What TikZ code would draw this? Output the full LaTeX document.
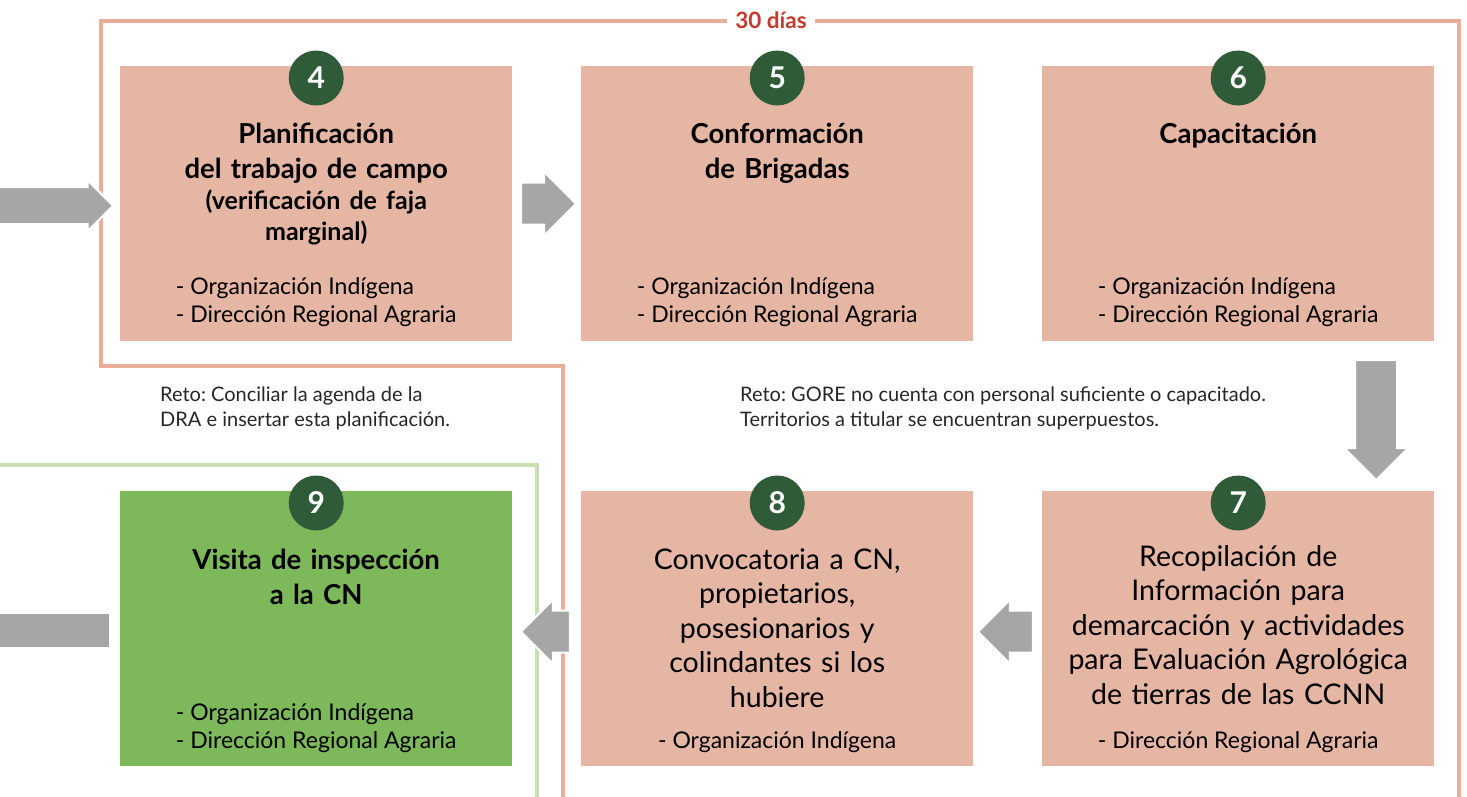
\documentclass[tikz,border=0pt]{standalone}
\usepackage{fontspec}
\setmainfont{Lato}
\usetikzlibrary{shapes.arrows, positioning, calc}

\definecolor{salmon}{HTML}{E6B6A5}
\definecolor{salmonline}{HTML}{E8AE98}
\definecolor{leaf}{HTML}{7DB85A}
\definecolor{leafline}{HTML}{C8DFB4}
\definecolor{pine}{HTML}{2F5B39}
\definecolor{arrowgray}{HTML}{A6A6A6}
\definecolor{dayred}{HTML}{C63A2C}
\frenchspacing

\begin{document}
\begin{tikzpicture}[
        x=1pt, y=-1pt,
        stage/.style={
            rectangle, fill=salmon, inner sep=0pt, anchor=north west,
            minimum width=392pt, minimum height=275pt
        },
        greenstage/.style={stage, fill=leaf},
        badge/.style={
            circle, fill=pine, inner sep=0pt, minimum size=55pt,
            text=white, font=\bfseries\fontsize{30}{30}\selectfont
        },
        title/.style={
            anchor=north, inner sep=0pt, text width=385pt, align=center,
            font=\bfseries\fontsize{27.5}{35}\selectfont
        },
        plaintitle/.style={title, font=\fontsize{28.5}{34.5}\selectfont},
        actors/.style={anchor=north, inner sep=0pt, align=left, font=\fontsize{23}{28}\selectfont},
        note/.style={anchor=north west, inner sep=0pt, align=left, text=black!85, font=\fontsize{20}{25}\selectfont},
        blockarrow/.style={
            single arrow, fill=arrowgray, draw=white, line width=2pt, anchor=tip,
            inner xsep=0pt, inner ysep=20pt,
            single arrow head extend=11pt, minimum height=55pt
        },
        frame/.style={line width=4pt, color=salmonline},
        greenframe/.style={line width=4pt, color=leafline}
    ]
        \useasboundingbox (0,0) rectangle (1467,796);

        % Stages
        \node[stage] (s4) at (120,66) {};
        \node[stage] (s5) at (581,66) {};
        \node[stage] (s6) at (1042,66) {};
        \node[greenstage] (s9) at (120,491) {};
        \node[stage] (s8) at (581,491) {};
        \node[stage] (s7) at (1042,491) {};

        % Frames
        \draw[frame] (563,800) -- (563,366) -- (101,366) -- (101,21) -- (1459,21) -- (1459,800);
        \draw[greenframe] (-5,465) -- (537,465) -- (537,800);
        \node[fill=white, inner xsep=8pt, text=dayred, font=\bfseries\fontsize{22.5}{22.5}\selectfont] (days) at (771,20) {30 días};

        % Numbers
        \node[badge] (n4) at ([yshift=-12pt]s4.north) {4};
        \node[badge] (n5) at ([yshift=-12pt]s5.north) {5};
        \node[badge] (n6) at ([yshift=-12pt]s6.north) {6};
        \node[badge] (n9) at ([yshift=-12pt]s9.north) {9};
        \node[badge] (n8) at ([yshift=-12pt]s8.north) {8};
        \node[badge] (n7) at ([yshift=-12pt]s7.north) {7};

        % Titles
        \node[title] (t4) at ([yshift=-57pt]s4.north) {Planificación\\del trabajo de campo\\[-4pt]
            {\fontsize{25}{31}\selectfont (verificación de faja}\\[-4pt]{\fontsize{25}{31}\selectfont marginal)}};
        \node[title] (t5) at ([yshift=-57pt]s5.north) {Conformación\\de Brigadas};
        \node[title] (t6) at ([yshift=-57pt]s6.north) {Capacitación};
        \node[title] (t9) at ([yshift=-58pt]s9.north) {Visita de inspección\\a la CN};
        \node[plaintitle] (t8) at ([yshift=-57pt]s8.north) {Convocatoria a CN,\\propietarios,\\posesionarios y\\colindantes si los\\hubiere};
        \node[plaintitle] (t7) at ([yshift=-54pt]s7.north) {Recopilación de\\Información para\\demarcación y actividades\\para Evaluación Agrológica\\de tierras de las CCNN};

        % Actors
        \node[actors] (r4) at ([yshift=64pt]s4.south) {- Organización Indígena\\- Dirección Regional Agraria};
        \node[actors] (r5) at ([yshift=64pt]s5.south) {- Organización Indígena\\- Dirección Regional Agraria};
        \node[actors] (r6) at ([yshift=64pt]s6.south) {- Organización Indígena\\- Dirección Regional Agraria};
        \node[actors] (r9) at ([yshift=63pt]s9.south) {- Organización Indígena\\- Dirección Regional Agraria};
        \node[actors] (r8) at ([yshift=35pt]s8.south) {- Organización Indígena};
        \node[actors] (r7) at ([yshift=35pt]s7.south) {- Dirección Regional Agraria};

        % Challenges
        \node[note] (c4) at (160,387) {Reto: Conciliar la agenda de la\\DRA e insertar esta planificación.};
        \node[note] (c6) at (740,387) {Reto: GORE no cuenta con personal suficiente o capacitado.\\Territorios a titular se encuentran superpuestos.};

        % Arrows
        \node[blockarrow, inner ysep=17.5pt, single arrow head extend=7pt, minimum height=125pt] (in4) at ([xshift=-5.5pt, yshift=-2pt]s4.west) {};
        \node[blockarrow] (a45) at ([xshift=-3.5pt]s5.west) {};
        \node[blockarrow, shape border rotate=270, inner xsep=20pt, inner ysep=0pt, minimum height=120pt] (a67) at ([xshift=138pt, yshift=9.5pt]s7.north) {};
        \node[blockarrow, shape border rotate=180] (a78) at ([xshift=-65.5pt, yshift=-3pt]s7.west) {};
        \node[blockarrow, shape border rotate=180, minimum height=49pt] (a89) at ([xshift=-61.5pt, yshift=-3pt]s8.west) {};
        \node[rectangle, fill=arrowgray, draw=white, line width=2pt, minimum width=120pt, minimum height=35pt] (out9) at (50,630) {};

    \end{tikzpicture}
\end{document}
